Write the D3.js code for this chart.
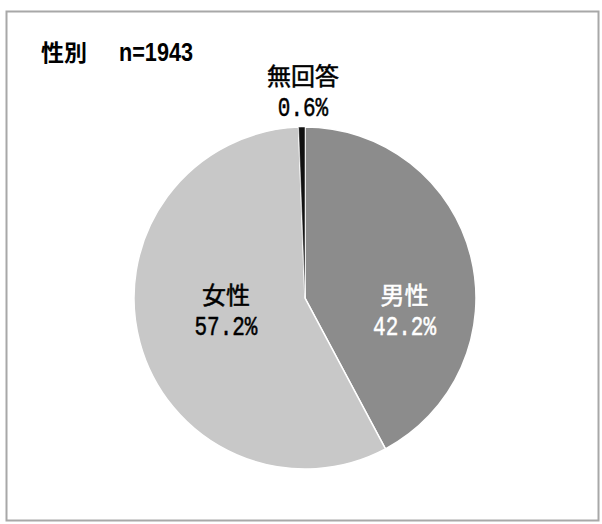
<!DOCTYPE html>
<html><head><meta charset="utf-8">
<script src="https://cdn.jsdelivr.net/npm/d3@7"></script>
<style>
html,body{margin:0;padding:0;background:#fff;}
svg{display:block;}
</style>
</head><body>
<script>
const title = "性別";
const nLabel = "n=1943";
const categories = ["男性", "女性", "無回答"];
const values = [42.2, 57.2, 0.6];
const valueLabels = ["42.2%", "57.2%", "0.6%"];
const colors = ["#8c8c8c", "#c8c8c8", "#111111"];

const W = 602, H = 524;
const svg = d3.select("body").append("svg").attr("width", W).attr("height", H);

// frame
svg.append("rect").attr("x", 6.5).attr("y", 11.5).attr("width", 592).attr("height", 509)
  .attr("fill", "#fff").attr("stroke", "#a8a8a8").attr("stroke-width", 2);

// title
const t = svg.append("text").attr("x", 41).attr("y", 61).attr("fill", "#000");
t.append("tspan").attr("font-family", "'Noto Sans CJK JP'").attr("font-weight", "bold")
  .attr("font-size", 23).text(title);
t.append("tspan").attr("x", 119).attr("font-family", "'Liberation Sans', Arial").attr("font-weight", "bold")
  .attr("font-size", 26).attr("textLength", 74).attr("lengthAdjust", "spacingAndGlyphs").text(nLabel);

const cx = 305, cy = 298, r = 171;
const g = svg.append("g").attr("transform", `translate(${cx},${cy})`);
const pie = d3.pie().sort(null).value(d => d)(values);
const arc = d3.arc().innerRadius(0).outerRadius(r);

g.selectAll("path.slice").data(pie).join("path").attr("class", "slice")
  .attr("d", arc)
  .attr("fill", (d, i) => colors[i])
  .attr("stroke", "#fff").attr("stroke-width", (d, i) => i === 2 ? 0.5 : 1.5);

// label positions: inside for big slices, above for the tiny one
function labelPos(d, i) {
  const c = d3.arc().innerRadius(r * 0.6).outerRadius(r * 0.6).centroid(d);
  if (i === 2) return [-2, -r - 48];
  return [c[0] + (i === 0 ? 0 : 20), 0];
}
const textColors = ["#ffffff", "#000000", "#000000"];
pie.forEach((d, i) => {
  const [x, y] = labelPos(d, i);
  g.append("text").attr("x", x).attr("y", y + 6).attr("text-anchor", "middle")
    .attr("font-family", "'Noto Sans CJK JP'").attr("font-size", 24)
    .attr("stroke", textColors[i]).attr("stroke-width", 0.5)
    .attr("fill", textColors[i]).text(categories[i]);
  g.append("text").attr("transform", `translate(${x},${y + 37}) scale(0.75,1)`)
    .attr("text-anchor", "middle")
    .attr("font-family", "'Liberation Mono', monospace").attr("font-size", 28)
    .attr("stroke", textColors[i]).attr("stroke-width", 0.5)
    .attr("fill", textColors[i]).text(valueLabels[i]);
});
</script>
</body></html>
